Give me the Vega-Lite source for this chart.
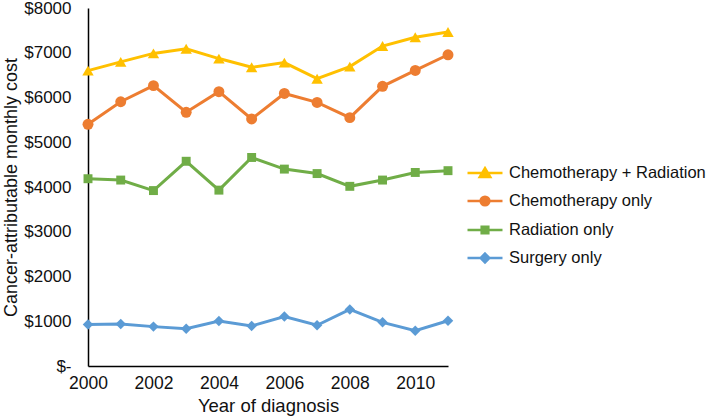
{
  "$schema": "https://vega.github.io/schema/vega-lite/v6.json",
  "width": 360,
  "height": 358,
  "autosize": "none",
  "padding": {"left": 88, "top": 8, "right": 261, "bottom": 52},
  "background": "white",
  "config": {"view": {"stroke": null}, "font": "Liberation Sans"},
  "data": {"values": [
    {"year": 2000, "series": "Chemotherapy + Radiation", "cost": 6600},
    {"year": 2001, "series": "Chemotherapy + Radiation", "cost": 6795},
    {"year": 2002, "series": "Chemotherapy + Radiation", "cost": 6985},
    {"year": 2003, "series": "Chemotherapy + Radiation", "cost": 7090},
    {"year": 2004, "series": "Chemotherapy + Radiation", "cost": 6870},
    {"year": 2005, "series": "Chemotherapy + Radiation", "cost": 6675},
    {"year": 2006, "series": "Chemotherapy + Radiation", "cost": 6780},
    {"year": 2007, "series": "Chemotherapy + Radiation", "cost": 6420},
    {"year": 2008, "series": "Chemotherapy + Radiation", "cost": 6690},
    {"year": 2009, "series": "Chemotherapy + Radiation", "cost": 7150},
    {"year": 2010, "series": "Chemotherapy + Radiation", "cost": 7345},
    {"year": 2011, "series": "Chemotherapy + Radiation", "cost": 7465},
    {"year": 2000, "series": "Chemotherapy only", "cost": 5400},
    {"year": 2001, "series": "Chemotherapy only", "cost": 5905},
    {"year": 2002, "series": "Chemotherapy only", "cost": 6265},
    {"year": 2003, "series": "Chemotherapy only", "cost": 5670},
    {"year": 2004, "series": "Chemotherapy only", "cost": 6130},
    {"year": 2005, "series": "Chemotherapy only", "cost": 5520},
    {"year": 2006, "series": "Chemotherapy only", "cost": 6090},
    {"year": 2007, "series": "Chemotherapy only", "cost": 5890},
    {"year": 2008, "series": "Chemotherapy only", "cost": 5550},
    {"year": 2009, "series": "Chemotherapy only", "cost": 6250},
    {"year": 2010, "series": "Chemotherapy only", "cost": 6605},
    {"year": 2011, "series": "Chemotherapy only", "cost": 6955},
    {"year": 2000, "series": "Radiation only", "cost": 4185},
    {"year": 2001, "series": "Radiation only", "cost": 4155},
    {"year": 2002, "series": "Radiation only", "cost": 3920},
    {"year": 2003, "series": "Radiation only", "cost": 4575},
    {"year": 2004, "series": "Radiation only", "cost": 3930},
    {"year": 2005, "series": "Radiation only", "cost": 4660},
    {"year": 2006, "series": "Radiation only", "cost": 4400},
    {"year": 2007, "series": "Radiation only", "cost": 4300},
    {"year": 2008, "series": "Radiation only", "cost": 4015},
    {"year": 2009, "series": "Radiation only", "cost": 4155},
    {"year": 2010, "series": "Radiation only", "cost": 4325},
    {"year": 2011, "series": "Radiation only", "cost": 4365},
    {"year": 2000, "series": "Surgery only", "cost": 925},
    {"year": 2001, "series": "Surgery only", "cost": 940},
    {"year": 2002, "series": "Surgery only", "cost": 880},
    {"year": 2003, "series": "Surgery only", "cost": 835},
    {"year": 2004, "series": "Surgery only", "cost": 1005},
    {"year": 2005, "series": "Surgery only", "cost": 895},
    {"year": 2006, "series": "Surgery only", "cost": 1105},
    {"year": 2007, "series": "Surgery only", "cost": 910},
    {"year": 2008, "series": "Surgery only", "cost": 1265},
    {"year": 2009, "series": "Surgery only", "cost": 975},
    {"year": 2010, "series": "Surgery only", "cost": 790},
    {"year": 2011, "series": "Surgery only", "cost": 1010}
  ]},
  "encoding": {
    "x": {"field": "year", "type": "quantitative",
      "scale": {"domain": [2000, 2011], "nice": false, "zero": false},
      "axis": {"values": [2000, 2002, 2004, 2006, 2008, 2010], "format": "d", "grid": false, "ticks": false,
        "domainColor": "#000", "domainWidth": 1.5, "labelFontSize": 17.5, "labelColor": "#111", "labelPadding": 8,
        "labelFlush": false, "title": "Year of diagnosis", "titleFontSize": 18.5, "titleFontWeight": "normal", "titleColor": "#111", "titlePadding": 5}},
    "y": {"field": "cost", "type": "quantitative",
      "scale": {"domain": [0, 8000], "nice": false},
      "axis": {"values": [0, 1000, 2000, 3000, 4000, 5000, 6000, 7000, 8000], "grid": false, "ticks": false,
        "labelExpr": "datum.value == 0 ? '$-' : '$' + datum.value",
        "domainColor": "#000", "domainWidth": 1.5, "labelFontSize": 17, "labelColor": "#111", "labelPadding": 17,
        "labelFlush": false, "title": "Cancer-attributable monthly cost", "titleFontSize": 18, "titleFontWeight": "normal", "titleColor": "#111", "titlePadding": 3}},
    "color": {"field": "series", "type": "nominal",
      "scale": {"domain": ["Chemotherapy + Radiation", "Chemotherapy only", "Radiation only", "Surgery only"],
        "range": ["#FFC000", "#ED7D31", "#70AD47", "#5B9BD5"]},
      "legend": {"title": null, "orient": "none", "legendX": 387, "legendY": 155, "padding": 0,
        "symbolSize": 306, "labelFontSize": 16.5, "labelColor": "#111", "labelOffset": 14, "rowPadding": 9,
        "symbolStrokeWidth": 2.5, "labelLimit": 300, "symbolType": "M-2,0H2",
        "encode": {"symbols": {"update": {
          "shape": {"signal": "datum.value == 'Chemotherapy + Radiation' ? 'M-2,0H2M0,-0.55L0.6,0.45L-0.6,0.45Z' : datum.value == 'Chemotherapy only' ? 'M-2,0H2M-0.5,0A0.5,0.5,0,1,0,0.5,0A0.5,0.5,0,1,0,-0.5,0Z' : datum.value == 'Radiation only' ? 'M-2,0H2M-0.38,-0.38H0.38V0.38H-0.38Z' : 'M-2,0H2M0,-0.5L0.5,0L0,0.5L-0.5,0Z'"},
          "fill": {"signal": "scale('color', datum.value)"},
          "stroke": {"signal": "scale('color', datum.value)"},
          "strokeWidth": {"value": 2.5},
          "opacity": {"value": 1}
        }}}}}
  },
  "layer": [
    {"mark": {"type": "line", "strokeWidth": 3}},
    {"transform": [{"filter": "datum.series == 'Chemotherapy + Radiation'"}],
      "mark": {"type": "point", "filled": true, "opacity": 1, "shape": "triangle-up", "size": 130}},
    {"transform": [{"filter": "datum.series == 'Chemotherapy only'"}],
      "mark": {"type": "point", "filled": true, "opacity": 1, "shape": "circle", "size": 120}},
    {"transform": [{"filter": "datum.series == 'Radiation only'"}],
      "mark": {"type": "point", "filled": true, "opacity": 1, "shape": "square", "size": 80}},
    {"transform": [{"filter": "datum.series == 'Surgery only'"}],
      "mark": {"type": "point", "filled": true, "opacity": 1, "shape": "diamond", "size": 110}}
  ]
}
